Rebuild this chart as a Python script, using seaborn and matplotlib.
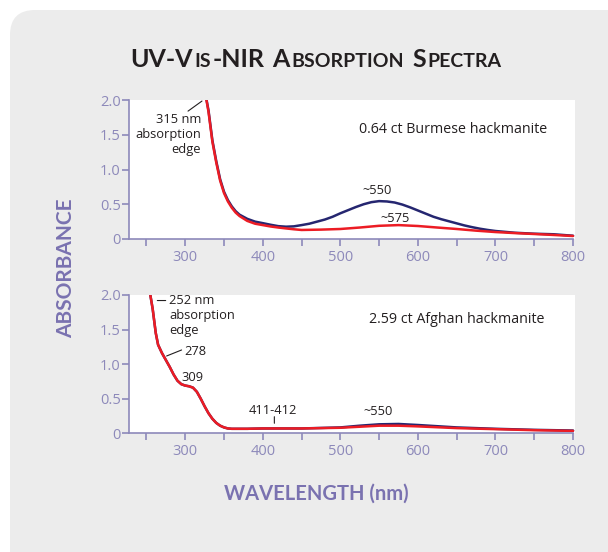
import matplotlib
matplotlib.use("Agg")
import matplotlib.pyplot as plt
from matplotlib.patches import FancyBboxPatch
import pandas as pd
import seaborn as sns

# --- data (wavelength nm, absorbance) ---
burma_nm = [325, 330, 335, 340, 345, 350, 355, 360, 365, 370, 380, 390, 400, 410,
            420, 430, 440, 450, 460, 470, 480, 490, 500, 510, 520, 530, 540, 550,
            560, 570, 580, 590, 600, 610, 620, 630, 640, 650, 660, 670, 680, 690,
            700, 725, 750, 775, 800]
burma_blue = [2.15, 1.85, 1.42, 1.12, 0.86, 0.68, 0.56, 0.47, 0.40, 0.35, 0.29, 0.25,
              0.228, 0.205, 0.185, 0.177, 0.182, 0.20, 0.22, 0.25, 0.28, 0.32, 0.37,
              0.415, 0.46, 0.50, 0.53, 0.545, 0.54, 0.525, 0.495, 0.455, 0.41, 0.365,
              0.32, 0.285, 0.255, 0.225, 0.195, 0.17, 0.148, 0.13, 0.115, 0.09, 0.076,
              0.068, 0.047]
burma_red_nm = [325, 330, 335, 340, 345, 350, 355, 360, 365, 370, 380, 390, 400, 410,
                420, 430, 440, 450, 475, 500, 525, 550, 575, 600, 625, 650, 675, 700,
                725, 750, 775, 800]
burma_red = [2.15, 1.83, 1.40, 1.10, 0.84, 0.66, 0.54, 0.45, 0.38, 0.33, 0.26, 0.22,
             0.20, 0.18, 0.165, 0.152, 0.14, 0.13, 0.135, 0.144, 0.165, 0.19, 0.20,
             0.187, 0.165, 0.144, 0.12, 0.10, 0.085, 0.072, 0.058, 0.043]

afghan_nm = [250, 255, 258, 262, 265, 270, 275, 280, 285, 290, 295, 300, 305, 310,
             315, 320, 325, 330, 335, 340, 345, 350, 355, 360, 380, 400, 450, 500,
             525, 550, 575, 600, 650, 700, 750, 800]
afghan_blue = [2.2, 2.0, 1.8, 1.45, 1.28, 1.16, 1.06, 0.96, 0.85, 0.76, 0.71, 0.69,
               0.68, 0.66, 0.60, 0.50, 0.39, 0.29, 0.21, 0.15, 0.11, 0.085, 0.07,
               0.065, 0.065, 0.07, 0.07, 0.085, 0.11, 0.13, 0.135, 0.12, 0.085,
               0.065, 0.05, 0.04]
afghan_red = [2.2, 2.0, 1.8, 1.45, 1.28, 1.16, 1.06, 0.96, 0.85, 0.76, 0.71, 0.69,
              0.68, 0.66, 0.60, 0.50, 0.39, 0.29, 0.21, 0.15, 0.11, 0.085, 0.07,
              0.065, 0.065, 0.07, 0.07, 0.08, 0.095, 0.11, 0.11, 0.10, 0.075,
              0.06, 0.045, 0.035]

x_ticks = list(range(250, 801, 50))
x_labels = ["" if v % 100 else str(v) for v in x_ticks]
y_ticks = [0, 0.5, 1.0, 1.5, 2.0]
y_labels = ["0", "0.5", "1.0", "1.5", "2.0"]

title_parts = [("UV-V", True), ("IS", False), ("-NIR", True), (" ", None), ("A", True),
               ("BSORPTION", False), (" ", None), ("S", True), ("PECTRA", False)]

AXIS_COL = "#8d89ba"
LABEL_COL = "#7a72b0"
TEXT_COL = "#231f20"
BLUE = "#252670"
RED = "#ec1c24"

sns.set_style("ticks")
plt.rcParams["font.family"] = ["Open Sans", "DejaVu Sans"]

W, H = 608, 552
fig = plt.figure(figsize=(W / 100, H / 100), dpi=100)
fig.patch.set_facecolor("white")
panel = FancyBboxPatch((0.10, -0.5), 7.0, H / 100 - 0.10 + 0.5,
                       boxstyle="round,pad=0,rounding_size=0.25",
                       transform=fig.dpi_scale_trans, facecolor="#ececec",
                       edgecolor="none", zorder=-5)
fig.add_artist(panel)


def px_axes(left, top, right, bottom):
    return fig.add_axes([left / W, 1 - bottom / H, (right - left) / W, (bottom - top) / H])


def style_axis(ax):
    ax.set_xlim(227.5, 802.5)
    ax.set_ylim(0, 2.0)
    ax.set_facecolor("white")
    ax.spines["top"].set_visible(False)
    ax.spines["right"].set_visible(False)
    for s in ["left", "bottom"]:
        ax.spines[s].set_color(AXIS_COL)
        ax.spines[s].set_linewidth(1.2)
    ax.spines["bottom"].set_bounds(227.5, 800)
    ax.set_xticks(x_ticks)
    ax.set_xticklabels(x_labels)
    ax.set_yticks(y_ticks)
    ax.set_yticklabels(y_labels)
    ax.tick_params(axis="both", direction="out", length=5, width=1.2, color=AXIS_COL,
                   labelcolor=AXIS_COL, labelsize=10.5)
    ax.tick_params(axis="x", pad=3)
    ax.tick_params(axis="y", pad=1)
    ax.set_xlabel("")
    ax.set_ylabel("")


ax1 = px_axes(129, 100, 575, 239)
ax2 = px_axes(129, 295, 575, 433.3)

sns.lineplot(x=burma_nm, y=burma_blue, ax=ax1, color=BLUE, linewidth=1.8)
sns.lineplot(x=burma_red_nm, y=burma_red, ax=ax1, color=RED, linewidth=1.8)
sns.lineplot(x=afghan_nm, y=afghan_blue, ax=ax2, color=BLUE, linewidth=1.8)
sns.lineplot(x=afghan_nm, y=afghan_red, ax=ax2, color=RED, linewidth=1.8)
style_axis(ax1)
style_axis(ax2)

note = dict(color=TEXT_COL, fontsize=9.3)
leader = dict(arrowstyle="-", color=TEXT_COL, lw=0.8, shrinkA=0, shrinkB=0)

# top panel notes
ax1.text(320.3, 1.51, "315 nm\nabsorption\nedge", ha="right", va="center",
         multialignment="right", linespacing=1.2, **note)
ax1.annotate("", xy=(321.6, 1.985), xytext=(303.6, 1.84), arrowprops=leader)
ax1.text(524, 1.58, "0.64 ct Burmese hackmanite", ha="left", va="center",
         color=TEXT_COL, fontsize=10.3)
ax1.text(547, 0.705, "~550", ha="center", va="center", **note)
ax1.text(570.5, 0.30, "~575", ha="center", va="center", **note)

# bottom panel notes
ax2.text(279, 1.70, "252 nm\nabsorption\nedge", ha="left", va="center",
         multialignment="left", linespacing=1.2, **note)
ax2.annotate("", xy=(264, 1.92), xytext=(274.8, 1.92), arrowprops=leader)
ax2.text(312.6, 1.19, "278", ha="center", va="center", **note)
ax2.annotate("", xy=(276, 1.118), xytext=(295.3, 1.205), arrowprops=leader)
ax2.text(309.4, 0.81, "309", ha="center", va="center", **note)
ax2.text(413.6, 0.33, "411-412", ha="center", va="center", **note)
ax2.annotate("", xy=(414.9, 0.145), xytext=(414.9, 0.24), arrowprops=leader)
ax2.text(548, 0.31, "~550", ha="center", va="center", **note)
ax2.text(537.4, 1.64, "2.59 ct Afghan hackmanite", ha="left", va="center",
         color=TEXT_COL, fontsize=10.3)

# axis titles
fig.text(66 / W, 1 - 268.5 / H, "ABSORBANCE", rotation=90, ha="center", va="center",
         family="Lato", fontweight="bold", fontsize=15, color=LABEL_COL)
fig.text(316.5 / W, 1 - 494 / H, "WAVELENGTH (nm)", ha="center", va="center",
         family="Lato", fontweight="bold", fontsize=14.5, color=LABEL_COL)

# small-caps title built piece by piece
fig.canvas.draw()
renderer = fig.canvas.get_renderer()
x = 130
for txt, big in title_parts:
    if big is None:
        x += 7
        continue
    t = fig.text(x / W, 1 - 67.3 / H, txt, family="Lato", fontweight="bold",
                 fontsize=18 if big else 14, color=TEXT_COL, va="baseline", ha="left")
    x += t.get_window_extent(renderer).width + 1.5

fig.savefig("out.png", dpi=100)
